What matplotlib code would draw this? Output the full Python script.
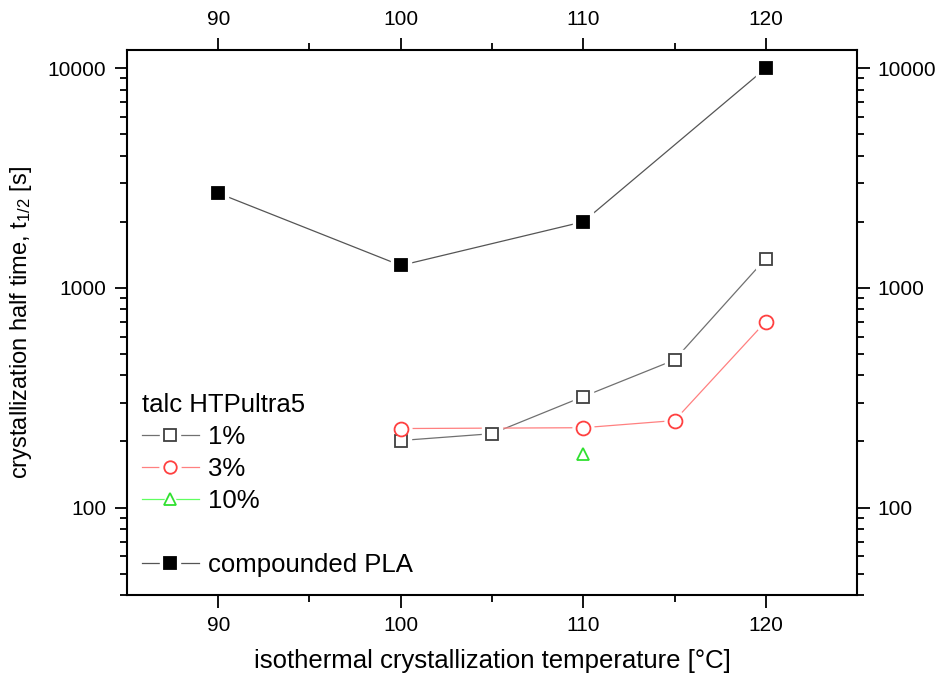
import matplotlib
matplotlib.use('Agg')
import matplotlib.pyplot as plt
from matplotlib.lines import Line2D
from matplotlib.legend_handler import HandlerTuple
from matplotlib.ticker import FixedLocator, LogLocator, NullFormatter, FuncFormatter

plt.rcParams['font.family'] = ['Liberation Sans', 'DejaVu Sans']
plt.rcParams['mathtext.default'] = 'regular'

# data
temp_1 = [100, 105, 110, 115, 120]
t_half_1 = [202, 217, 320, 470, 1360]
temp_3 = [100, 110, 115, 120]
t_half_3 = [229, 231, 249, 703]
temp_10 = [110]
t_half_10 = [176]
temp_pla = [90, 100, 110, 120]
t_half_pla = [2700, 1265, 2000, 10000]

x_ticks = [90, 100, 110, 120]
y_ticks = [100, 1000, 10000]

series = [
    (temp_1, t_half_1, 's', 'white', '#404040', '#707070', '1%'),
    (temp_3, t_half_3, 'o', 'white', '#ff4040', '#ff8080', '3%'),
    (temp_10, t_half_10, '^', 'white', '#30e030', '#60ff60', '10%'),
    (temp_pla, t_half_pla, 's', 'black', 'black', '#555555', 'compounded PLA'),
]

fig = plt.figure(figsize=(9.35, 6.77), dpi=100)
ax = fig.add_axes([0.1358, 0.1211, 0.7808, 0.805])

handles, labels = [], []
for x, y, m, fc, ec, lc, lab in series:
    ms = 10 if m == 'o' else 9
    ax.plot(x, y, '-', color=lc, lw=0.9, zorder=2)
    # white halo so the line stops short of the marker like in the original
    ax.plot(x, y, ls='none', marker=m, ms=ms + 5, mfc='white', mec='white', zorder=3)
    ax.plot(x, y, ls='none', marker=m, ms=ms, mfc=fc, mec=ec, mew=1.3, zorder=4)
    hl = Line2D([], [], color=lc, lw=0.9)
    hh = Line2D([], [], ls='none', marker=m, ms=ms + 5, mfc='white', mec='white')
    hm = Line2D([], [], ls='none', marker=m, ms=ms - 1, mfc=fc, mec=ec, mew=1.3)
    handles.append((hl, hh, hm))
    labels.append(lab)

blank = Line2D([], [], color='none')
handles = handles[:3] + [blank] + handles[3:]
labels = labels[:3] + [' '] + labels[3:]

ax.set_yscale('log')
ax.set_xlim(85, 125)
ax.set_ylim(40, 12100)

ax.xaxis.set_major_locator(FixedLocator(x_ticks))
ax.xaxis.set_minor_locator(FixedLocator([95, 105, 115]))
ax.yaxis.set_major_locator(FixedLocator(y_ticks))
ax.yaxis.set_minor_locator(LogLocator(base=10, subs=range(2, 10)))
ax.yaxis.set_major_formatter(FuncFormatter(lambda v, p: '%d' % v))
ax.yaxis.set_minor_formatter(NullFormatter())

for s in ax.spines.values():
    s.set_linewidth(1.5)
ax.tick_params(which='both', direction='out', top=True, right=True,
               labeltop=True, labelright=True, width=1.3, labelsize=15)
ax.tick_params(which='major', length=9, pad=6)
ax.tick_params(which='minor', length=5)

ax.set_xlabel('isothermal crystallization temperature [°C]', fontsize=18.5, labelpad=10)
ax.set_ylabel('crystallization half time, t$_{1/2}$ [s]', fontsize=17, labelpad=10)

leg = ax.legend(handles=handles, labels=labels, title='talc HTPultra5', loc='upper left',
                bbox_to_anchor=(0.0065, 0.3895), frameon=False, fontsize=18.5,
                title_fontsize=18.5, handlelength=2.2, handletextpad=0.35,
                labelspacing=0.31, alignment='left', borderaxespad=0,
                handler_map={tuple: HandlerTuple(ndivide=1, pad=0)})

fig.savefig('out.png', dpi=100)
